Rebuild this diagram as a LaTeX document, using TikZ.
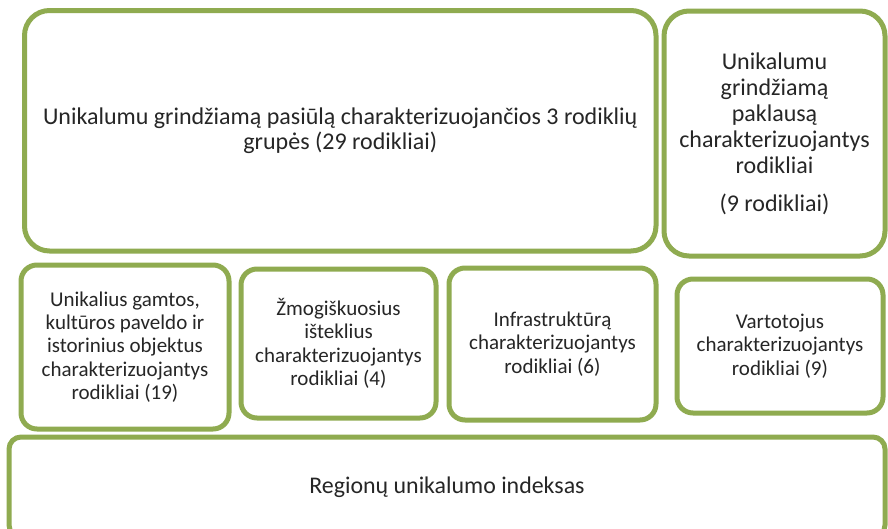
\documentclass[tikz,border=0pt]{standalone}
\usepackage{fontspec}
\setmainfont{Carlito}
\definecolor{boxgreen}{HTML}{8FAB50}
\begin{document}
\begin{tikzpicture}[x=1pt,y=-1pt,
  box/.style={draw=boxgreen, line width=5pt, fill=white, align=center, inner sep=0pt, text=black!85},
  bigtext/.style={font=\fontsize{24}{25.5}\selectfont},
  tallText/.style={font=\fontsize{24}{26.2}\selectfont},
  smalltext/.style={font=\fontsize{21}{23.3}\selectfont},
  basetext/.style={font=\fontsize{23.9}{25}\selectfont}]
\clip (0,0) rectangle (888,528);
\fill[white] (0,0) rectangle (888,528);
\node[box, bigtext, rounded corners=25pt, minimum width=631.5pt, minimum height=240.5pt] (supply) at (340.25,130.75)
  {Unikalumu grindžiamą pasiūlą charakterizuojančios 3 rodiklių\\grupės (29 rodikliai)};
\node[box, tallText, rounded corners=25pt, minimum width=221pt, minimum height=245pt] (demand) at (774.5,133.5)
  {Unikalumu\\grindžiamą\\paklausą\\charakterizuojantys\\rodikliai\\[11pt](9 rodikliai)};
\node[box, smalltext, rounded corners=16pt, minimum width=208pt, minimum height=164pt] (nature) at (125,347)
  {Unikalius gamtos,\\kultūros paveldo ir\\istorinius objektus\\charakterizuojantys\\rodikliai (19)};
\node[box, smalltext, rounded corners=16pt, minimum width=195pt, minimum height=149pt] (human) at (338.5,343.5)
  {Žmogiškuosius\\išteklius\\charakterizuojantys\\rodikliai (4)};
\node[box, smalltext, rounded corners=16pt, minimum width=207pt, minimum height=152pt] (infra) at (552.5,344)
  {Infrastruktūrą\\charakterizuojantys\\rodikliai (6)};
\node[box, smalltext, rounded corners=16pt, minimum width=206pt, minimum height=134pt] (consumers) at (780,346)
  {Vartotojus\\charakterizuojantys\\rodikliai (9)};
\node[box, basetext, rounded corners=12pt, minimum width=876pt, minimum height=100pt] (index) at (447,487)
  {Regionų unikalumo indeksas};
\end{tikzpicture}
\end{document}
